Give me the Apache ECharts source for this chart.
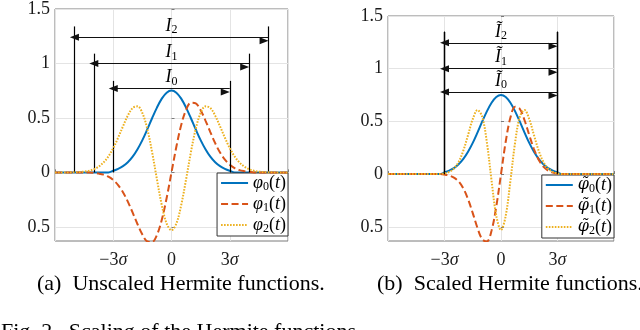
<!DOCTYPE html>
<html><head><meta charset="utf-8">
<script src="https://cdn.jsdelivr.net/npm/echarts@6/dist/echarts.min.js"></script>
<style>html,body{margin:0;padding:0;background:#fff}#c{width:640px;height:330px}</style>
</head><body><div id="c"></div>
<script>
// time grid (units of sigma)
const tGrid = [-6,-5.75,-5.5,-5.25,-5,-4.75,-4.5,-4.25,-4,-3.75,-3.5,-3.25,-3,-2.75,-2.5,-2.25,-2,-1.75,-1.5,-1.25,-1,-0.75,-0.5,-0.25,0,0.25,0.5,0.75,1,1.25,1.5,1.75,2,2.25,2.5,2.75,3,3.25,3.5,3.75,4,4.25,4.5,4.75,5,5.25,5.5,5.75,6];
// (a) unscaled Hermite functions
const phi0 = [0,0,0,0,0,0,0,0,0,0,0,0,0.015,0.033,0.057,0.093,0.144,0.212,0.296,0.394,0.497,0.595,0.677,0.732,0.751,0.732,0.677,0.595,0.497,0.394,0.296,0.212,0.144,0.093,0.057,0.033,0.015,0,0,0,0,0,0,0,0,0,0,0,0];
const phi1 = [0,0,0,0,0,0,0,0,-0.005,-0.011,-0.021,-0.040,-0.070,-0.117,-0.182,-0.268,-0.370,-0.476,-0.571,-0.633,-0.639,-0.574,-0.435,-0.235,0,0.235,0.435,0.574,0.639,0.633,0.571,0.476,0.370,0.268,0.182,0.117,0.070,0.040,0.021,0.011,0.005,0,0,0,0,0,0,0,0];
const phi2 = [0,0,0,0,0.001,0.003,0.007,0.015,0.029,0.053,0.091,0.147,0.223,0.318,0.422,0.521,0.591,0.606,0.545,0.401,0.186,-0.064,-0.300,-0.470,-0.531,-0.470,-0.300,-0.064,0.186,0.401,0.545,0.606,0.591,0.521,0.422,0.318,0.223,0.147,0.091,0.053,0.029,0.015,0.007,0.003,0.001,0,0,0,0];
// (b) scaled Hermite functions
const phi0s = [0,0,0,0,0,0,0,0,0,0,0,0,0.015,0.033,0.057,0.093,0.144,0.212,0.296,0.394,0.497,0.595,0.677,0.732,0.751,0.732,0.677,0.595,0.497,0.394,0.296,0.212,0.144,0.093,0.057,0.033,0.015,0,0,0,0,0,0,0,0,0,0,0,0];
const phi1s = [0,0,0,0,0,0,0,0,0,0,0,0,-0.005,-0.014,-0.033,-0.070,-0.136,-0.238,-0.370,-0.511,-0.618,-0.639,-0.536,-0.307,0,0.307,0.536,0.639,0.618,0.511,0.370,0.238,0.136,0.070,0.033,0.014,0.005,0,0,0,0,0,0,0,0,0,0,0,0];
const phi2s = [0,0,0,0,0,0,0,0,0,0,0,0,0.007,0.021,0.053,0.116,0.223,0.370,0.521,0.607,0.545,0.301,-0.064,-0.396,-0.531,-0.396,-0.064,0.301,0.545,0.607,0.521,0.370,0.223,0.116,0.053,0.021,0.007,0,0,0,0,0,0,0,0,0,0,0,0];
// intervals I_n
const unscaledHalfWidths = [3, 4, 5];
const unscaledEdgeTops = [0.84, 1.09, 1.34];
const unscaledArrowY = [0.77, 1.0, 1.24];
const scaledHalfWidths = [3, 3, 3];
const scaledEdgeTops = [1.35, 1.35, 1.35];
const scaledArrowY = [0.78, 1.0, 1.245];
// ticks
const xTickValues = [-3, 0, 3];
const xTickNums = ['\u22123', '0', '3'];
const xTickSigma = ['\u03c3', '', '\u03c3'];
const yTickValues = [-0.5, 0, 0.5, 1, 1.5];
const yTickLabels = ['0.5', '0', '0.5', '1', '1.5'];
const namesA = ['\u03c60(t)', '\u03c61(t)', '\u03c62(t)'];
const namesB = ['\u03c6\u03030(t)', '\u03c6\u03031(t)', '\u03c6\u03032(t)'];
const captionA = '(a)  Unscaled Hermite functions.';
const captionB = '(b)  Scaled Hermite functions.';
const figCaption = 'Fig. 2.  Scaling of the Hermite functions.';

const SERIF = '"Liberation Serif", "DejaVu Serif", serif';
const colors = ['#0072BD', '#D95319', '#EDB120'];
const styles = [
  {width: 2, type: 'solid'},
  {width: 2, type: [7, 3.5]},
  {width: 2, type: [1.6, 1.4]}
];

const chart = echarts.init(document.getElementById('c'), null, {renderer: 'canvas'});

function xAxis(gi) {
  return {
    gridIndex: gi, type: 'value', min: -6, max: 6, interval: 3,
    axisLine: {show: false},
    axisTick: {show: true, inside: true, length: 3, lineStyle: {color: '#7a7a7a'}},
    splitLine: {show: true, lineStyle: {color: '#e4e4e4', width: 1}},
    axisLabel: {
      margin: 10,
      formatter: v => {
        const k = xTickValues.indexOf(v);
        if (k < 0) return '';
        return '{n|' + xTickNums[k] + '}' + (xTickSigma[k] ? '{i|' + xTickSigma[k] + '}' : '');
      },
      rich: {
        n: {fontFamily: SERIF, fontSize: 18, color: '#1a1a1a'},
        i: {fontFamily: SERIF, fontSize: 18, fontStyle: 'italic', color: '#1a1a1a'}
      }
    }
  };
}
function yAxis(gi, min) {
  return {
    gridIndex: gi, type: 'value', min: min, max: 1.5,
    axisLine: {show: false},
    axisTick: {show: true, inside: true, length: 3, customValues: yTickValues, lineStyle: {color: '#7a7a7a'}},
    splitLine: {show: true, lineStyle: {color: '#e4e4e4', width: 1}},
    axisLabel: {
      customValues: yTickValues, margin: 5,
      fontFamily: SERIF, fontSize: 18, color: '#1a1a1a',
      formatter: v => {
        const k = yTickValues.findIndex(y => Math.abs(y - v) < 1e-9);
        return k < 0 ? '' : yTickLabels[k];
      }
    }
  };
}

function curves(gi, names, arrs) {
  return arrs.map((arr, k) => ({
    name: names[k], type: 'line', xAxisIndex: gi, yAxisIndex: gi,
    data: tGrid.map((t, i) => [t, arr[i]]),
    smooth: 0.35, symbol: 'none', z: 3 + k,
    lineStyle: Object.assign({color: colors[k]}, styles[k]),
    itemStyle: {color: colors[k]},
    emphasis: {disabled: true}
  }));
}

const richLabel = {
  i: {fontFamily: SERIF, fontSize: 18, fontStyle: 'italic', color: '#000', lineHeight: 20},
  s: {fontFamily: SERIF, fontSize: 12, color: '#000', lineHeight: 12, verticalAlign: 'bottom'}
};

function intervals(gi, halfW, tops, arrowY, tilde) {
  const vData = [];
  halfW.forEach((w, k) => {
    vData.push([{coord: [-w, 0]}, {coord: [-w, tops[k]]}]);
    vData.push([{coord: [w, 0]}, {coord: [w, tops[k]]}]);
  });
  const aData = halfW.map((w, k) => [
    {coord: [-w, arrowY[k]], name: String(k)},
    {coord: [w, arrowY[k]]}
  ]);
  return [
    {
      type: 'line', xAxisIndex: gi, yAxisIndex: gi, data: [], silent: true, z: 2,
      markLine: {
        silent: true, animation: false, symbol: 'none',
        lineStyle: {color: '#000', width: 1.2, type: 'solid'},
        label: {show: false}, emphasis: {disabled: true},
        data: vData
      }
    },
    {
      type: 'line', xAxisIndex: gi, yAxisIndex: gi, data: [], silent: true, z: 2,
      markLine: {
        silent: true, animation: false,
        symbol: ['triangle', 'triangle'], symbolSize: [7, 9], symbolOffset: [0, '50%'],
        lineStyle: {color: '#111', width: 1.2, type: 'solid'},
        emphasis: {disabled: true},
        label: {
          show: true, position: 'middle', distance: 1,
          formatter: p => '{i|' + (tilde ? '\u0128' : 'I') + '}{s|' + p.name + '}',
          rich: richLabel
        },
        data: aData
      }
    }
  ];
}

const legendRich = {
  i: {fontFamily: SERIF, fontSize: 18, fontStyle: 'italic', color: '#000', lineHeight: 20},
  p: {fontFamily: '"DejaVu Serif", serif', fontSize: 16, fontStyle: 'italic', color: '#000', lineHeight: 20},
  n: {fontFamily: SERIF, fontSize: 18, color: '#000', lineHeight: 20},
  s: {fontFamily: SERIF, fontSize: 12, color: '#000', lineHeight: 12, verticalAlign: 'bottom'}
};
function legendFmt(name) {
  const tilde = name.indexOf('\u0303') >= 0;
  const d = name.match(/\d/)[0];
  const phi = tilde ? '{p|\u03c6\u0303}' : '{i|\u03c6}';
  return phi + '{s|' + d + '}{n|(}{i|t}{n|)}';
}
function legend(names, right, top) {
  return {
    data: names, orient: 'vertical', right: right, top: top,
    backgroundColor: '#fff', borderColor: '#333', borderWidth: 1, borderRadius: 0,
    padding: [1, 2, 1, 3], itemGap: 2, itemWidth: 27, itemHeight: 14,
    selectedMode: false,
    itemStyle: {opacity: 0, borderWidth: 0},
    formatter: legendFmt,
    textStyle: {rich: legendRich, padding: [0, 0, 0, 0]}
  };
}

const option = {
  animation: false,
  backgroundColor: '#fff',
  grid: [
    {left: 55, top: 7, width: 233, height: 234, show: true, borderColor: '#7a7a7a', borderWidth: 1, backgroundColor: 'transparent'},
    {left: 388, top: 16, width: 226, height: 225, show: true, borderColor: '#7a7a7a', borderWidth: 1, backgroundColor: 'transparent'}
  ],
  xAxis: [xAxis(0), xAxis(1)],
  yAxis: [yAxis(0, -0.63), yAxis(1, -0.635)],
  legend: [legend(namesA, 640 - 288, 173), legend(namesB, 640 - 614, 175)],
  series: [].concat(
    intervals(0, unscaledHalfWidths, unscaledEdgeTops, unscaledArrowY, false),
    intervals(1, scaledHalfWidths, scaledEdgeTops, scaledArrowY, true),
    curves(0, namesA, [phi0, phi1, phi2]),
    curves(1, namesB, [phi0s, phi1s, phi2s])
  ),
  graphic: [
    {type: 'text', left: 37, top: 273, style: {text: captionA, font: '22px ' + SERIF, fill: '#000'}},
    {type: 'text', left: 377, top: 273, style: {text: captionB, font: '22px ' + SERIF, fill: '#000'}},
    {type: 'text', left: 1, top: 321, style: {text: figCaption, font: '22px ' + SERIF, fill: '#000'}}
  ]
};
chart.setOption(option);
</script>
</body></html>
